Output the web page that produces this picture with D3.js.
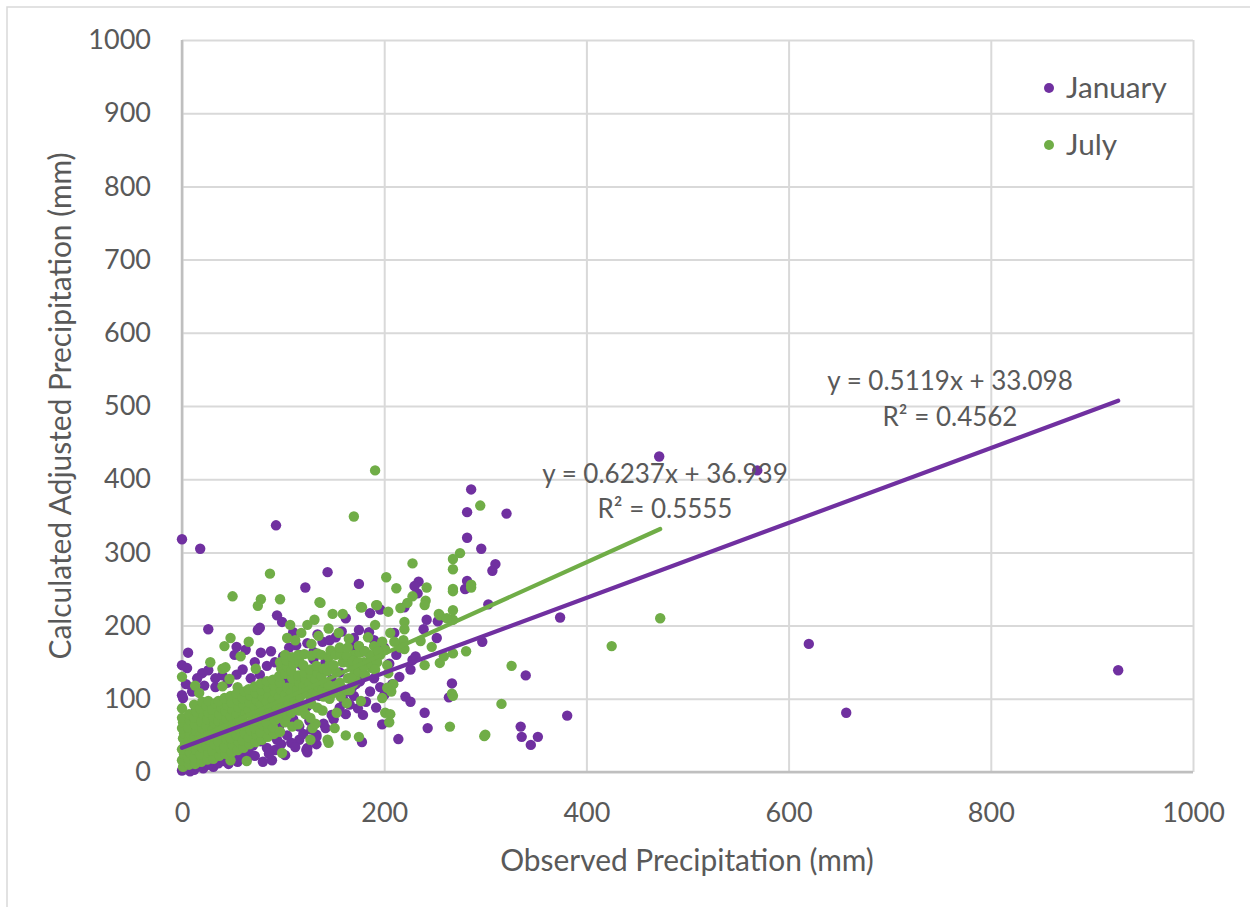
<!DOCTYPE html>
<html>
<head>
<meta charset="utf-8">
<script src="https://cdnjs.cloudflare.com/ajax/libs/d3/7.8.5/d3.min.js"></script>
<style>
  html, body { margin: 0; padding: 0; background: #fff; }
  svg { display: block; }
  text { font-family: Lato, "Open Sans", sans-serif; fill: #595959; }
</style>
</head>
<body>
<div id="chart"></div>
<script>
'use strict'

// values, [observed, calculated] in mm
const januaryPoints = [
  [0,318],[18,305],[93,337],[144,273],[122,252],[175,257],[472,431],[569,412],[286,386],[282,355],[321,353],[282,320],[296,305],[310,284],[307,275],[282,261],[280,250],[303,229],
  [234,260],[230,254],[233,244],[220,225],[242,208],[186,217],[196,222],[374,211],[620,175],[657,81],[926,139],[340,132],[381,77],[335,62],[336,48],[352,48],[345,37],
  [267,121],[264,102],[240,81],[243,60],[214,45],[226,96],[221,103],[198,65],[178,41],[179,78],[123,30],[133,51],[133,38],[252,183],[239,195],[253,206],[297,178],[228,153],[231,158],[196,116],[168,115],[172,120],[163,110],[176,124],
  [26,195],[75,194],[77,197],[6,163],[94,214],[99,205],[110,191],[162,210],[185,191],[175,194],[170,183],[152,184],[139,178],[130,164],[113,173],[78,163],[63,167],[54,171],[52,160],
  [0,146],[5,142],[20,135],[26,139],[33,128],[33,116],[54,133],[77,133],[0,105],[1,101],[13,82],[174,87],[162,79],[133,48],[124,33],[124,27],[116,44],[102,23],[89,16],[80,14],[55,14],[57,20],
  [31,7],[21,5],[8,1],[0,2],[3,4],[6,6],[12,3],[16,8],[26,10],[36,12],[42,15],[48,20],[60,24],[66,27],[72,22],[84,33],[92,30],[98,38],[108,40],[112,34],[120,52],[128,58],[140,66],[148,78],[156,88],[160,98],[170,104],[186,110],[190,128],
  [4,12],[9,15],[18,20],[28,18],[34,21],[40,26],[46,11],[52,30],[64,17],[70,36],[78,42],[86,25],[94,44],[104,50],[116,62],[126,70],
  [4,120],[10,110],[15,128],[22,118],[40,132],[45,122],[60,140],[68,128],[72,150],[84,145],[88,165],[92,150],[100,158],[106,170],[116,160],[124,176],[134,188],[146,180],[158,192],[168,170],[180,165],[190,180],[200,170],[210,190],[205,148],[190,150],[215,130],[226,140],[212,160],
  [142,60],[150,72],[166,92],[182,96],[192,88],[200,105],[208,120],
  [130,154],[142,150],[156,136],[148,126],[118,146],[104,128],[124,90],[136,104],[110,72],[96,62]
]

const julyPoints = [
  [191,412],[170,349],[295,364],[228,285],[275,299],[268,291],[268,277],[202,266],[212,251],[242,252],[228,240],[223,231],[241,234],[240,228],[216,224],[268,250],[268,247],[286,256],[286,252],[268,221],[255,214],[204,219],[193,228],[178,225],[425,172],[473,210],
  [87,271],[50,240],[78,236],[75,227],[97,236],[136,232],[149,216],[159,216],[177,225],[192,228],[131,208],[124,201],[107,201],[104,183],[48,183],[42,172],[66,178],[58,158],[28,150],[0,130],[13,118],[17,108],[0,87],[40,141],[43,143],[73,141],[47,127],[40,117],[55,116],
  [151,60],[162,50],[175,48],[127,44],[144,44],[145,40],[99,26],[64,15],[48,16],[198,101],[201,81],[205,68],[177,97],
  [326,145],[316,93],[300,51],[299,49],[265,62],[267,107],[268,104],[281,165],[268,162],[255,149],[259,158],[240,146],[247,171],[236,179],[254,216],[268,208],[262,210],[220,205],[220,195],[209,120],[203,115],[207,110],[206,79],[203,146],[204,135],[220,168],[219,180],[201,167],[216,170],[191,201],[137,231],[163,94],[153,81],[129,60],[132,66],
  [210,178],[206,190],[198,178],[190,172],[184,184],[196,160],[186,160],[175,172],[165,182],[155,190],[145,196],[135,186],[118,190],[112,180],[128,175],[170,160],[180,150],[188,142],[178,136],[172,125],[166,112],
  [1,7],[0,16],[2,24],[0,31],[3,39],[1,46],[2,53],[0,60],[1,68],[0,74],
  [7,10],[6,19],[8,27],[6,36],[7,45],[8,52],[6,61],[8,70],[7,79],
  [13,11],[12,20],[14,30],[13,38],[12,47],[14,56],[13,65],[12,74],[14,83],[12,92],
  [19,14],[18,24],[20,33],[19,42],[18,50],[20,60],[19,69],[21,78],[18,87],[20,96],
  [25,17],[26,27],[24,36],[25,45],[26,55],[24,63],[25,72],[26,81],[24,91],[26,97],
  [31,18],[30,29],[32,38],[31,48],[30,57],[32,67],[31,75],[30,85],[33,94],
  [37,22],[38,32],[36,42],[37,51],[38,60],[36,70],[37,79],[39,88],[36,97],
  [43,25],[42,34],[44,45],[43,54],[42,64],[44,73],[43,83],[45,91],[42,101],
  [49,27],[50,37],[48,46],[49,57],[51,66],[48,76],[50,85],[49,95],[48,104],
  [55,30],[56,41],[54,50],[55,60],[57,69],[54,79],[56,88],[55,98],[54,107],
  [61,33],[60,43],[62,53],[61,63],[60,72],[63,82],[61,91],[60,101],[62,110],
  [67,38],[66,47],[68,57],[67,66],[69,76],[66,85],[67,95],[68,104],[66,113],
  [73,41],[74,51],[72,60],[73,70],[75,79],[72,89],[74,98],[73,108],[72,117],
  [79,44],[78,54],[80,64],[79,73],[81,83],[78,92],[80,102],[79,111],[78,121],
  [85,48],[86,58],[84,67],[85,77],[87,86],[84,96],[86,105],[85,115],[84,124],
  [91,52],[90,61],[92,71],[91,80],[93,90],[90,99],[92,109],[91,118],[90,126],
  [97,55],[96,74],[97,84],[99,93],[96,103],[98,112],[97,122],[96,131],[98,141],[97,150],
  [102,68],[104,77],[103,87],[105,96],[102,106],[104,115],[102,134],[104,144],[103,153],[102,160],
  [109,62],[108,81],[109,90],[111,100],[108,109],[110,119],[109,128],[108,138],[110,147],[109,157],
  [115,65],[116,84],[115,94],[117,103],[114,113],[116,122],[115,132],[116,151],[115,160],
  [122,79],[120,89],[123,108],[120,117],[122,127],[121,136],[120,146],[121,161],
  [127,74],[128,93],[127,102],[129,112],[126,121],[128,131],[127,140],[128,159],
  [134,88],[133,107],[135,116],[132,126],[134,135],[133,145],[134,162],
  [139,84],[140,103],[139,112],[141,122],[138,131],[140,141],[138,160],
  [146,100],[144,110],[145,119],[144,138],[146,147],[145,157],[147,166],
  [150,108],[152,118],[153,136],[150,146],[152,160],
  [157,103],[158,115],[156,122],[159,150],[157,161],[156,170],
  [163,112],[164,128],[165,149],[163,158],[164,170],
  [169,120],[168,130],[170,141],[169,152],
  [175,137],[174,150],[176,163],[175,172],
  [181,133],[180,144],[181,165],[187,148],[187,158],[193,150],[194,165],[191,140]
]

const xTicks = [0, 200, 400, 600, 800, 1000]
const yTicks = [0, 100, 200, 300, 400, 500, 600, 700, 800, 900, 1000]

// trendlines as printed on the chart: slope, intercept and last observed x
const januaryTrend = {slope: 0.5119, intercept: 33.098, end: 926}
const julyTrend = {slope: 0.6237, intercept: 36.939, end: 473}

const legendLabels = ['January', 'July']

const purple = '#7030a0'
const green = '#70ad47'

////////////////////////////////////
//////////// svg setup /////////////
////////////////////////////////////

const svgWidth = 1250
const svgHeight = 907
const margin = {left: 182, right: 57, top: 40, bottom: 135}
const width = svgWidth - margin.left - margin.right
const height = svgHeight - margin.top - margin.bottom

const root = d3.select('#chart').append('svg')
  .attr('width', svgWidth)
  .attr('height', svgHeight)

// outer chart border, only top and left show in the picture
root.append('path')
  .attr('d', `M7,${svgHeight}V7H${svgWidth}`)
  .attr('fill', 'none')
  .attr('stroke', '#d9d9d9')
  .attr('stroke-width', 1.5)

const svg = root.append('g')
  .attr('transform', `translate(${margin.left},${margin.top})`)

const x = d3.scaleLinear().domain([0, 1000]).range([0, width])
const y = d3.scaleLinear().domain([0, 1000]).range([height, 0])

const xAxis = d3.axisBottom(x).tickValues(xTicks).tickSize(-height).tickPadding(31).tickFormat(d3.format('d'))
const yAxis = d3.axisLeft(y).tickValues(yTicks).tickSize(-width).tickPadding(31).tickFormat(d3.format('d'))

const xG = svg.append('g').attr('transform', `translate(0,${height})`).call(xAxis)
const yG = svg.append('g').call(yAxis)

for (const g of [xG, yG]) {
  g.selectAll('.tick line').attr('stroke', '#d9d9d9').attr('stroke-width', 2)
  g.selectAll('.tick text').attr('font-size', 27).attr('font-family', 'Lato').attr('fill', '#595959')
  g.select('.domain').remove()
}

// axis lines sit over the grid
svg.append('line').attr('x1', 0).attr('x2', 0).attr('y1', 0).attr('y2', height).attr('stroke', '#bfbfbf').attr('stroke-width', 2.5)
svg.append('line').attr('x1', 0).attr('x2', width).attr('y1', height).attr('y2', height).attr('stroke', '#bfbfbf').attr('stroke-width', 2.5)

// draw points, january first so july covers it
const dots = (data, color) => svg.append('g').selectAll('circle')
  .data(data)
  .join('circle')
  .attr('cx', d => x(d[0]))
  .attr('cy', d => y(d[1]))
  .attr('r', 5.2)
  .attr('fill', color)

dots(januaryPoints, purple)
dots(julyPoints, green)

// trendlines
const trend = (t, color) => svg.append('line')
  .attr('x1', x(0))
  .attr('y1', y(t.intercept))
  .attr('x2', x(t.end))
  .attr('y2', y(t.slope * t.end + t.intercept))
  .attr('stroke', color)
  .attr('stroke-width', 4.2)
  .attr('stroke-linecap', 'round')

trend(julyTrend, green)
trend(januaryTrend, purple)

// trendline labels
const note = (px, py, s) => root.append('text')
  .attr('x', px).attr('y', py)
  .attr('text-anchor', 'middle')
  .attr('font-size', 26)
  .text(s)

note(950, 390, 'y = 0.5119x + 33.098')
note(950, 426, 'R² = 0.4562')
note(665, 483, 'y = 0.6237x + 36.939')
note(665, 518, 'R² = 0.5555')

// axis titles
root.append('text')
  .attr('x', 687).attr('y', 871)
  .attr('text-anchor', 'middle')
  .attr('font-size', 29.9)
  .text('Observed Precipitation (mm)')

root.append('text')
  .attr('transform', 'translate(71,406) rotate(-90)')
  .attr('text-anchor', 'middle')
  .attr('font-size', 29.9)
  .text('Calculated Adjusted Precipitation (mm)')

// legend
const legendY = [88, 145]
const legendColors = [purple, green]
legendLabels.forEach((s, i) => {
  root.append('circle').attr('cx', 1049).attr('cy', legendY[i]).attr('r', 5).attr('fill', legendColors[i])
  root.append('text').attr('x', 1066).attr('y', legendY[i] + 10).attr('font-size', 29.7).text(s)
})
</script>
</body>
</html>
